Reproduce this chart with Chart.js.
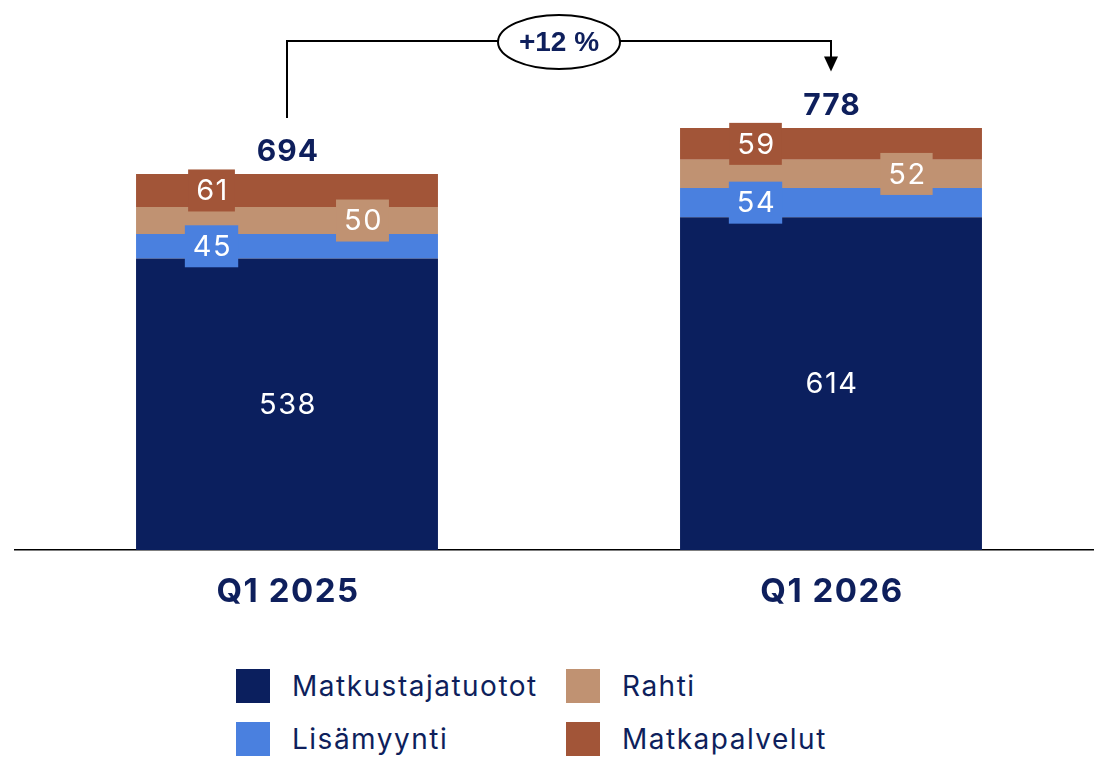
<!DOCTYPE html>
<html>
<head>
<meta charset="utf-8">
<script src="https://cdn.jsdelivr.net/npm/chart.js@4.4.1/dist/chart.umd.min.js"></script>
<style>
  html, body { margin: 0; padding: 0; background: #fff; overflow: hidden; width: 1094px; height: 757px; }
  #wrap { position: relative; width: 1103px; height: 640px; }
  #legend { position: absolute; left: 236px; top: 669px; font-family: Inter, "Noto Sans", sans-serif; }
  .item { position: absolute; display: flex; align-items: center; white-space: nowrap; font-size: 28px; letter-spacing: 1.5px; color: #0e1f5c; }
  .item span.box { display: inline-block; width: 34px; height: 34px; margin-right: 22px; }
</style>
</head>
<body>
<div id="wrap"><canvas id="chart"></canvas></div>
<div id="legend"></div>
<script>
const quarters = ['Q1 2025', 'Q1 2026'];                 // x categories
const matkustajatuotot = [538, 614];                      // passenger revenue
const lisamyynti = [45, 54];                              // ancillary sales
const rahti = [50, 52];                                   // cargo
const matkapalvelut = [61, 59];                           // travel services
const totals = [694, 778];                                // totals shown above bars
const growthLabel = '+12 %';

const textNavy = '#0e1f5c';

// series config, the label position inside the bar is given as a fraction of bar width
const series = [
    { label: 'Matkustajatuotot', data: matkustajatuotot, color: '#0b1f5e', pos: 0.5, box: false },
    { label: 'Lisämyynti', data: lisamyynti, color: '#4a80df', pos: 0.25, box: true },
    { label: 'Rahti', data: rahti, color: '#c09272', pos: 0.75, box: true },
    { label: 'Matkapalvelut', data: matkapalvelut, color: '#a25538', pos: 0.25, box: true }
];

//draws the white value labels, with a background box when they sit on a thin segment
const segmentLabels = {
    id: 'segmentLabels',
    afterDatasetsDraw(chart) {
        const ctx = chart.ctx;
        ctx.save();
        ctx.font = '29px Inter, "Noto Sans", sans-serif';
        ctx.letterSpacing = '1.5px';
        ctx.textAlign = 'center';
        ctx.textBaseline = 'middle';
        chart.data.datasets.forEach((ds, d) => {
            const meta = chart.getDatasetMeta(d);
            const s = series[d];
            meta.data.forEach((bar, i) => {
                const left = bar.x - bar.width / 2;
                const x = left + bar.width * s.pos;
                const y = (bar.y + bar.base) / 2;
                const txt = String(ds.data[i]);
                if (s.box) {
                    const w = ctx.measureText(txt).width + 14;
                    ctx.fillStyle = s.color;
                    ctx.fillRect(x - w / 2, y - 21, w, 42);
                }
                ctx.fillStyle = '#ffffff';
                ctx.fillText(txt, x + 1, y + 1);
            });
        });
        ctx.restore();
    }
};

//draws totals, category names and the growth bracket between the bars
const totalsAndBracket = {
    id: 'totalsAndBracket',
    afterDraw(chart) {
        const ctx = chart.ctx;
        const xs = chart.scales.x;
        const ys = chart.scales.y;
        ctx.save();
        ctx.textAlign = 'center';
        ctx.textBaseline = 'middle';
        ctx.fillStyle = textNavy;
        const x0 = xs.getPixelForValue(0);
        const x1 = xs.getPixelForValue(1);

        ctx.font = 'bold 30px Inter, "Liberation Sans", sans-serif';
        ctx.letterSpacing = '1px';
        totals.forEach((t, i) => {
            ctx.fillText(String(t), xs.getPixelForValue(i) + 1, ys.getPixelForValue(t) - 22);
        });

        ctx.font = 'bold 33px Inter, "Liberation Sans", sans-serif';
        ctx.letterSpacing = '1.5px';
        quarters.forEach((q, i) => {
            ctx.fillText(q, xs.getPixelForValue(i) + 1, xs.top + 42);
        });
        ctx.letterSpacing = '0px';

        const topY = 41;
        const startY = ys.getPixelForValue(totals[0]) - 56;
        const tipY = ys.getPixelForValue(totals[1]) - 57;
        ctx.strokeStyle = '#000';
        ctx.lineWidth = 2;
        ctx.beginPath();
        ctx.moveTo(x0, startY);
        ctx.lineTo(x0, topY);
        ctx.lineTo(x1, topY);
        ctx.lineTo(x1, tipY - 14);
        ctx.stroke();
        ctx.fillStyle = '#000';
        ctx.beginPath();
        ctx.moveTo(x1 - 7, tipY - 15);
        ctx.lineTo(x1 + 7, tipY - 15);
        ctx.lineTo(x1, tipY);
        ctx.closePath();
        ctx.fill();

        const cx = (x0 + x1) / 2;
        ctx.beginPath();
        ctx.ellipse(cx, topY + 1, 61, 27, 0, 0, Math.PI * 2);
        ctx.fillStyle = '#fff';
        ctx.fill();
        ctx.lineWidth = 2;
        ctx.stroke();
        ctx.fillStyle = textNavy;
        ctx.font = 'bold 28px "Liberation Sans", Arial, sans-serif';
        ctx.fillText(growthLabel, cx, topY + 2);
        ctx.restore();
    }
};

new Chart(document.getElementById('chart'), {
    type: 'bar',
    data: {
        labels: quarters,
        datasets: series.map(s => ({
            label: s.label,
            data: s.data,
            backgroundColor: s.color,
            borderWidth: 0,
            categoryPercentage: 1,
            barPercentage: 0.555
        }))
    },
    options: {
        responsive: true,
        maintainAspectRatio: false,
        animation: false,
        layout: { padding: { left: 15, right: 0, top: 0, bottom: 0 } },
        plugins: { legend: { display: false }, tooltip: { enabled: false } },
        scales: {
            x: {
                stacked: true,
                grid: { display: false, drawTicks: false },
                border: { display: true, color: '#000', width: 1.5 },
                ticks: { display: false },
                afterFit: s => { s.height = 90; }
            },
            y: {
                stacked: true,
                display: false,
                min: 0,
                max: 1015
            }
        }
    },
    plugins: [segmentLabels, totalsAndBracket]
});

//legend in two columns: first column Matkustajatuotot/Lisämyynti, second Rahti/Matkapalvelut
const legend = document.getElementById('legend');
const order = [0, 2, 1, 3];
order.forEach((idx, k) => {
    const s = series[idx];
    const el = document.createElement('div');
    el.className = 'item';
    el.style.left = (k % 2 === 0 ? 0 : 330) + 'px';
    el.style.top = (k < 2 ? 0 : 53) + 'px';
    el.innerHTML = '<span class="box" style="background:' + s.color + '"></span>' + s.label;
    legend.appendChild(el);
});
</script>
</body>
</html>
